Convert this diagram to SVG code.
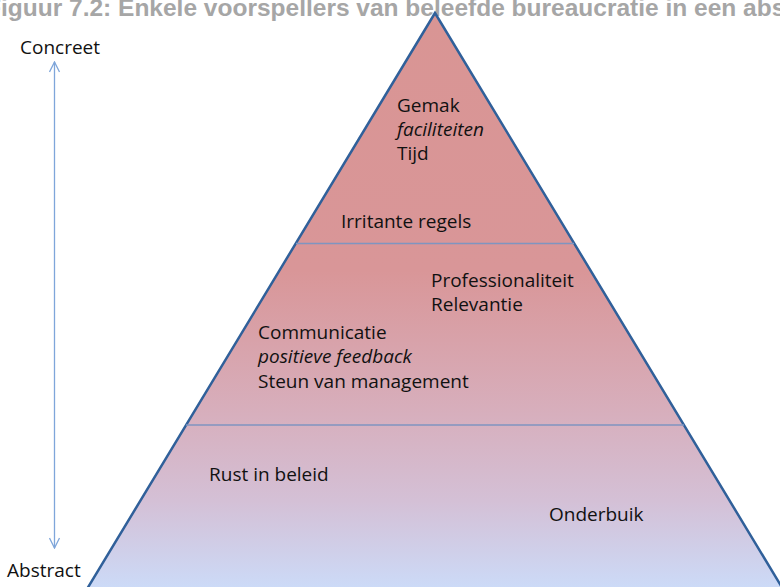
<svg xmlns="http://www.w3.org/2000/svg" width="780" height="587" viewBox="0 0 780 587">
  <defs>
    <linearGradient id="pyrFill" gradientUnits="userSpaceOnUse" x1="0" y1="13" x2="0" y2="587">
      <stop offset="0" stop-color="#D99594"/>
      <stop offset="0.45" stop-color="#D99698"/>
      <stop offset="0.7" stop-color="#D7AFBD"/>
      <stop offset="0.85" stop-color="#D4C0D6"/>
      <stop offset="1" stop-color="#CCDAF7"/>
    </linearGradient>
    <marker id="arrowOpen" viewBox="0 0 12 12" refX="11" refY="6" markerWidth="12" markerHeight="12" markerUnits="userSpaceOnUse" orient="auto-start-reverse">
      <path d="M1,1 L11,6 L1,11" fill="none" stroke="#7FA6DA" stroke-width="1.3"/>
    </marker>
  </defs>
  <style>
    .title { font-family: "Liberation Sans", Arial, sans-serif; font-weight: bold; font-size: 24.5px; fill: #A6A6A6; }
    .lbl { font-family: "Open Sans", "Liberation Sans", sans-serif; font-size: 19px; fill: #111111; }
    .it { font-style: italic; }
    .divider { stroke: #7F95C0; stroke-width: 1.5; }
    .edge { fill: url(#pyrFill); stroke: #30609A; stroke-width: 2.5; stroke-linejoin: miter; }
  </style>

  <text class="title" x="-14" y="16">Figuur 7.2: Enkele voorspellers van beleefde bureaucratie in een abs</text>

  <g id="pyramid">
    <polygon class="edge" points="435,13 84,594 786,594"/>
    <line class="divider" x1="296" y1="243.5" x2="574" y2="243.5"/>
    <line class="divider" x1="186" y1="425" x2="684" y2="425"/>
  </g>

  <g id="tier-top">
    <text class="lbl" x="397" y="112">Gemak</text>
    <text class="lbl it" x="397" y="136">faciliteiten</text>
    <text class="lbl" x="397" y="160">Tijd</text>
    <text class="lbl" x="341" y="228">Irritante regels</text>
  </g>

  <g id="tier-middle">
    <text class="lbl" x="431" y="287">Professionaliteit</text>
    <text class="lbl" x="431" y="311">Relevantie</text>
    <text class="lbl" x="258" y="339">Communicatie</text>
    <text class="lbl it" x="258" y="363">positieve feedback</text>
    <text class="lbl" x="258" y="388">Steun van management</text>
  </g>

  <g id="tier-bottom">
    <text class="lbl" x="209" y="481">Rust in beleid</text>
    <text class="lbl" x="549" y="521">Onderbuik</text>
  </g>

  <g id="label-concreet">
    <text class="lbl" x="20" y="54">Concreet</text>
  </g>
  <g id="label-abstract">
    <text class="lbl" x="7" y="577">Abstract</text>
  </g>

  <g id="connectors">
    <line x1="54.5" y1="62" x2="54.5" y2="548" stroke="#7FA6DA" stroke-width="1.3" marker-start="url(#arrowOpen)" marker-end="url(#arrowOpen)"/>
  </g>
</svg>
